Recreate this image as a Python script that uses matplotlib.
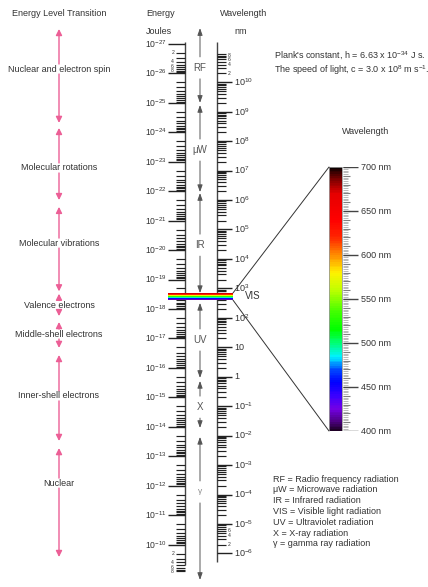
import numpy as np
import matplotlib
matplotlib.use('Agg')
import matplotlib.pyplot as plt
from matplotlib.colors import LinearSegmentedColormap
from matplotlib.patches import ConnectionPatch, Rectangle

plt.rcParams['font.family'] = ['Liberation Sans', 'DejaVu Sans']
plt.rcParams['mathtext.fontset'] = 'custom'
plt.rcParams['mathtext.rm'] = 'Liberation Sans'
plt.rcParams['mathtext.it'] = 'Liberation Sans:italic'
plt.rcParams['mathtext.bf'] = 'Liberation Sans:bold'
plt.rcParams['mathtext.sf'] = 'Liberation Sans'

# ---------------- data ----------------
planck_h = 6.63e-34
light_c = 3.0e8
hc_J_nm = planck_h * light_c * 1e9          # J * nm

energy_decades = list(range(-27, -9))       # 10^-27 ... 10^-10 J
energy_minor_mult = [2, 3, 4, 5, 6, 7, 8, 9]
energy_small_labels = [2, 4, 6, 8]
wavelength_decades = list(range(10, -7, -1))  # 10^10 ... 10^-6 nm
wavelength_top_labels = [8, 6, 4, 2]          # x 10^10 nm
wavelength_bottom_labels = [6, 4, 2]          # x 10^-6 nm

region_names = ['RF', 'μW', 'IR', 'UV', 'X', 'γ']
region_start = [-27.54, -24.93, -21.94, -18.21, -15.56, -13.66]   # log10 J
region_end = [-25.00, -21.97, -18.54, -15.66, -13.96, -8.80]
region_label = [-26.19, -23.40, -20.17, -16.95, -14.67, -11.79]

transition_names = ['Nuclear and electron spin', 'Molecular rotations',
                    'Molecular vibrations', 'Valence electrons',
                    'Middle-shell electrons', 'Inner-shell electrons', 'Nuclear']
transition_start = [-27.51, -24.15, -21.47, -18.52, -17.56, -16.44, -13.28]
transition_end = [-24.32, -21.70, -18.60, -17.76, -16.68, -13.52, -9.58]
transition_label = [-26.15, -22.79, -20.24, -18.12, -17.15, -15.05, -12.09]

visible_range = [400, 700]          # nm
visible_major = [400, 450, 500, 550, 600, 650, 700]
spectrum_nm = [400, 410, 425, 440, 455, 470, 484, 500, 515, 535, 560, 580,
               600, 620, 640, 670, 688, 700]
spectrum_rgb = [(0.12, 0.0, 0.15), (0.30, 0.0, 0.50), (0.45, 0.0, 0.90),
                (0.22, 0.0, 1.0), (0.0, 0.0, 1.0), (0.0, 0.30, 1.0),
                (0.0, 0.95, 1.0), (0.0, 1.0, 0.45), (0.0, 1.0, 0.0),
                (0.25, 1.0, 0.0), (0.75, 1.0, 0.0), (1.0, 0.95, 0.0),
                (1.0, 0.55, 0.0), (1.0, 0.15, 0.0), (1.0, 0.0, 0.0),
                (0.90, 0.0, 0.0), (0.45, 0.0, 0.0), (0.05, 0.0, 0.0)]

legend_lines = ['RF = Radio frequency radiation', 'μW = Microwave radiation',
                'IR = Infrared radiation', 'VIS = Visible light radiation',
                'UV = Ultraviolet radiation', 'X = X-ray radiation',
                'γ = gamma ray radiation']

# ---------------- layout ----------------
W, H = 428, 587
PX_TOP_LOG = -28.494     # log10 E at top pixel row
PX_BOT_LOG = -8.562      # log10 E at bottom pixel row
PX_PER_DECADE = H / (PX_BOT_LOG - PX_TOP_LOG)

fig = plt.figure(figsize=(W / 100, H / 100), dpi=100)
fig.patch.set_facecolor('white')
ax = fig.add_axes([0, 0, 1, 1])
ax.set_xlim(0, W)
ax.set_yscale('log')
ax.set_ylim(10 ** PX_BOT_LOG, 10 ** PX_TOP_LOG)
ax.axis('off')

FS = 6.5
TXT = '#333333'

def ftext(x, y, s, **kw):
    kw.setdefault('fontsize', FS)
    kw.setdefault('color', TXT)
    fig.text(x / W, 1 - y / H, s, **kw)

def split_arrow(x, s, e, lb, gap_px, color, lw, style, ms):
    g = gap_px / PX_PER_DECADE
    for a, b in [(lb - g, s), (lb + g, e)]:
        ax.annotate('', xy=(x, 10 ** b), xytext=(x, 10 ** a),
                    arrowprops=dict(arrowstyle=style, color=color, lw=lw,
                                    shrinkA=0, shrinkB=0, mutation_scale=ms))

# headers
ftext(59, 13, 'Energy Level Transition', ha='center', va='center')
ftext(146, 13, 'Energy', ha='left', va='center')
ftext(146, 32, 'Joules', ha='left', va='center')
ftext(244, 13, 'Wavelength', ha='center', va='center')
ftext(241, 32, 'nm', ha='center', va='center')

# ---------- energy axis ----------
E_AX, E_MAJ0, E_MIN0 = 185, 168, 176
e_top = 10 ** -27.07
e_bot = 10 ** -9.31
ax.vlines(E_AX, e_top, e_bot, color='#444444', lw=1.0)
maj_e = [10.0 ** d for d in energy_decades]
ax.hlines(maj_e, E_MAJ0, E_AX, color='#222222', lw=1.0)
min_e = [m * 10.0 ** d for d in energy_decades for m in energy_minor_mult]
min_e = [v for v in min_e if v <= 8.5e-10]
ax.hlines(min_e, E_MIN0, E_AX, color='#222222', lw=0.85)
for d in energy_decades:
    ax.text(167, 10.0 ** d, '$10^{%d}$' % d, ha='right', va='center',
            fontsize=6.2, color=TXT)
for m in energy_small_labels:
    ax.text(174, m * 10.0 ** energy_decades[0], str(m), ha='right',
            va='center', fontsize=3.6, color=TXT)
    ax.text(174, m * 10.0 ** energy_decades[-1], str(m), ha='right',
            va='center', fontsize=3.6, color=TXT)

# ---------- wavelength axis ----------
L_AX, L_MAJ1, L_MIN1 = 217, 232, 226
def lam_to_E(lam_nm):
    return hc_J_nm / np.asarray(lam_nm, dtype=float)

ax.vlines(L_AX, e_top, 10 ** -9.41, color='#444444', lw=1.0)
maj_l = [10.0 ** n for n in wavelength_decades]
ax.hlines(lam_to_E(maj_l), L_AX, L_MAJ1, color='#222222', lw=1.0)
min_l = [m * 10.0 ** n for n in range(-6, 11) for m in energy_minor_mult]
min_l = [v for v in min_l if v <= 9.5e10]
ax.hlines(lam_to_E(min_l), L_AX, L_MIN1, color='#222222', lw=0.85)
for n in wavelength_decades:
    lab = '10' if n == 1 else ('1' if n == 0 else '$10^{%d}$' % n)
    ax.text(234, lam_to_E(10.0 ** n), lab, ha='left', va='center',
            fontsize=6.5, color=TXT)
for m in wavelength_top_labels:
    ax.text(228, lam_to_E(m * 1e10), str(m), ha='left', va='center',
            fontsize=3.6, color=TXT)
for m in wavelength_bottom_labels:
    ax.text(228, lam_to_E(m * 1e-6), str(m), ha='left', va='center',
            fontsize=3.6, color=TXT)

# ---------- visible band ----------
spec_cmap = LinearSegmentedColormap.from_list(
    'spec', [((l - 400) / 300.0, c) for l, c in zip(spectrum_nm, spectrum_rgb)])
lam_edges = np.linspace(visible_range[0], visible_range[1], 151)
lam_mid = 0.5 * (lam_edges[1:] + lam_edges[:-1])
band_c = spec_cmap((lam_mid - 400) / 300.0)[:, None, :]
ax.pcolormesh([168, 233], lam_to_E(lam_edges), band_c, shading='flat', zorder=5)
ax.text(245, lam_to_E(550), 'VIS', ha='left', va='center', fontsize=7, color=TXT)

# ---------- radiation region arrows ----------
for name, s, e, lb in zip(region_names, region_start, region_end, region_label):
    split_arrow(200, s, e, lb, 11, '#555555', 0.7,
                '-|>,head_length=0.7,head_width=0.25', 6)
    fs = 6 if name == 'γ' else 7
    ax.text(200, 10 ** lb, name, ha='center', va='center', fontsize=fs,
            color='#555555' if name != 'γ' else '#888888')

# ---------- energy level transitions ----------
PINK = '#ec5f96'
for name, s, e, lb in zip(transition_names, transition_start, transition_end,
                          transition_label):
    split_arrow(59, s, e, lb, 5, PINK, 1.0,
                '-|>,head_length=0.6,head_width=0.3', 6)
    ax.text(59, 10 ** lb, name, ha='center', va='center', fontsize=FS,
            color=TXT)

# ---------- expanded visible colour bar ----------
CB_X0, CB_X1 = 329, 342
cax = fig.add_axes([CB_X0 / W, 1 - 431 / H, (W - CB_X0) / W, (431 - 167) / H])
cax.set_xlim(CB_X0, W)
cax.set_ylim(visible_range[0], visible_range[1])
cax.axis('off')
cax.pcolormesh([CB_X0, CB_X1], lam_edges, band_c, shading='flat')
cax.add_patch(Rectangle((CB_X0, 400), CB_X1 - CB_X0, 300, fill=False,
                        ec='#999999', lw=0.6))
fine = np.arange(400, 701, 2)
cax.hlines(fine, CB_X1 + 1, CB_X1 + 6, color='#b0b0b0', lw=0.6)
cax.hlines(np.arange(400, 701, 10), CB_X1 + 1, CB_X1 + 8, color='#808080', lw=0.8)
cax.hlines(visible_major, CB_X1 + 1, CB_X1 + 16, color='#444444', lw=1.0)
for v in visible_major:
    cax.text(CB_X1 + 19, v, '%d nm' % v, ha='left', va='center',
             fontsize=FS, color=TXT)
ftext(366, 131, 'Wavelength', ha='center', va='center')

for lam, yb in [(700, 700), (400, 400)]:
    con = ConnectionPatch(xyA=(233, lam_to_E(lam)), coordsA=ax.transData,
                          xyB=(CB_X0, yb), coordsB=cax.transData,
                          color='#333333', lw=0.7)
    fig.add_artist(con)

# ---------- notes ----------
ftext(274, 56, "Plank's constant, h = 6.63 x 10$^{-34}$ J s.", ha='left', va='center')
ftext(274, 70, "The speed of light, c = 3.0 x 10$^{8}$ m s$^{-1}$.", ha='left', va='center')
for i, line in enumerate(legend_lines):
    ftext(273, 479 + 10.8 * i, line, ha='left', va='center')

fig.savefig('out.png', dpi=100, facecolor='white')
